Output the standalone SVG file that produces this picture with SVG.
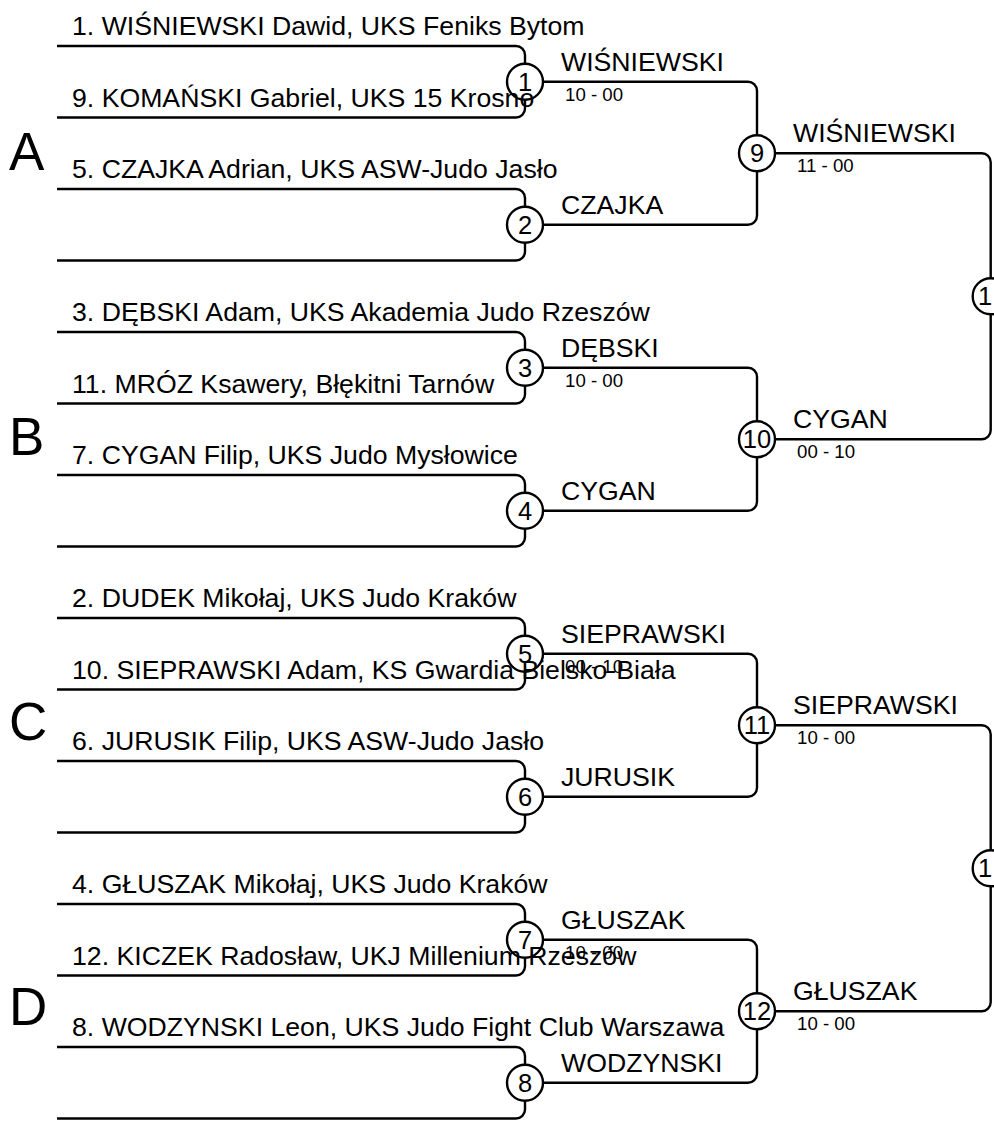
<svg xmlns="http://www.w3.org/2000/svg" width="994" height="1124" viewBox="0 0 994 1124">
<style>
  .ln{fill:none;stroke:#000;stroke-width:2.4;stroke-linejoin:round}
  .c{fill:#fff;stroke:#000;stroke-width:2.4}
  text{font-family:"Liberation Sans",Arial,sans-serif;fill:#000}
  .nm{font-size:26.67px}
  .lb{font-size:26.67px}
  .sc{font-size:18.67px}
  .num{font-size:25.5px;text-anchor:middle}
  .grp{font-size:53px}
</style>
<rect width="994" height="1124" fill="#fff"/>
<g id="connectors" class="ln">
  <path d="M57,46 H516 A9,9 0 0 1 525,55 V63.75 M57,117.5 H516 A9,9 0 0 0 525,108.5 V99.75"/>
  <path d="M57,189 H516 A9,9 0 0 1 525,198 V206.75 M57,260.5 H516 A9,9 0 0 0 525,251.5 V242.75"/>
  <path d="M57,332 H516 A9,9 0 0 1 525,341 V349.75 M57,403.5 H516 A9,9 0 0 0 525,394.5 V385.75"/>
  <path d="M57,475 H516 A9,9 0 0 1 525,484 V492.75 M57,546.5 H516 A9,9 0 0 0 525,537.5 V528.75"/>
  <path d="M57,618 H516 A9,9 0 0 1 525,627 V635.75 M57,689.5 H516 A9,9 0 0 0 525,680.5 V671.75"/>
  <path d="M57,761 H516 A9,9 0 0 1 525,770 V778.75 M57,832.5 H516 A9,9 0 0 0 525,823.5 V814.75"/>
  <path d="M57,904 H516 A9,9 0 0 1 525,913 V921.75 M57,975.5 H516 A9,9 0 0 0 525,966.5 V957.75"/>
  <path d="M57,1047 H516 A9,9 0 0 1 525,1056 V1064.75 M57,1118.5 H516 A9,9 0 0 0 525,1109.5 V1100.75"/>
  <path d="M543,81.75 H748 A9,9 0 0 1 757,90.75 V135.25 M543,224.75 H748 A9,9 0 0 0 757,215.75 V171.25"/>
  <path d="M543,367.75 H748 A9,9 0 0 1 757,376.75 V421.25 M543,510.75 H748 A9,9 0 0 0 757,501.75 V457.25"/>
  <path d="M543,653.75 H748 A9,9 0 0 1 757,662.75 V707.25 M543,796.75 H748 A9,9 0 0 0 757,787.75 V743.25"/>
  <path d="M543,939.75 H748 A9,9 0 0 1 757,948.75 V993.25 M543,1082.75 H748 A9,9 0 0 0 757,1073.75 V1029.25"/>
  <path d="M775,153.25 H981.7 A9,9 0 0 1 990.7,162.25 V278.25 M775,439.25 H981.7 A9,9 0 0 0 990.7,430.25 V314.25"/>
  <path d="M775,725.25 H981.7 A9,9 0 0 1 990.7,734.25 V850.25 M775,1011.25 H981.7 A9,9 0 0 0 990.7,1002.25 V886.25"/>
</g>
<g id="pool-labels" class="grp">
  <text x="9" y="170">A</text>
  <text x="9" y="455">B</text>
  <text x="9" y="740">C</text>
  <text x="9" y="1025">D</text>
</g>
<g id="m1"><circle class="c" cx="525" cy="81.75" r="18"/><text class="num" x="525" y="90.9">1</text></g>
<g id="m2"><circle class="c" cx="525" cy="224.75" r="18"/><text class="num" x="525" y="233.9">2</text></g>
<g id="m3"><circle class="c" cx="525" cy="367.75" r="18"/><text class="num" x="525" y="376.9">3</text></g>
<g id="m4"><circle class="c" cx="525" cy="510.75" r="18"/><text class="num" x="525" y="519.9">4</text></g>
<g id="m5"><circle class="c" cx="525" cy="653.75" r="18"/><text class="num" x="525" y="662.9">5</text></g>
<g id="m6"><circle class="c" cx="525" cy="796.75" r="18"/><text class="num" x="525" y="805.9">6</text></g>
<g id="m7"><circle class="c" cx="525" cy="939.75" r="18"/><text class="num" x="525" y="948.9">7</text></g>
<g id="m8"><circle class="c" cx="525" cy="1082.75" r="18"/><text class="num" x="525" y="1091.9">8</text></g>
<g id="m9"><circle class="c" cx="757" cy="153.25" r="18"/><text class="num" x="757" y="162.4">9</text></g>
<g id="m10"><circle class="c" cx="757" cy="439.25" r="18"/><text class="num" x="757" y="448.4">10</text></g>
<g id="m11"><circle class="c" cx="757" cy="725.25" r="18"/><text class="num" x="757" y="734.4">11</text></g>
<g id="m12"><circle class="c" cx="757" cy="1011.25" r="18"/><text class="num" x="757" y="1020.4">12</text></g>
<g id="sf1"><circle class="c" cx="990.7" cy="296.25" r="18"/><text class="num" x="985" y="305.4">1</text></g>
<g id="sf2"><circle class="c" cx="990.7" cy="868.25" r="18"/><text class="num" x="985" y="877.4">1</text></g>
<g id="entrants" class="nm">
  <text x="72" y="35">1. WIŚNIEWSKI Dawid, UKS Feniks Bytom</text>
  <text x="72" y="106.5">9. KOMAŃSKI Gabriel, UKS 15 Krosno</text>
  <text x="72" y="178">5. CZAJKA Adrian, UKS ASW-Judo Jasło</text>
  <text x="72" y="321">3. DĘBSKI Adam, UKS Akademia Judo Rzeszów</text>
  <text x="72" y="392.5">11. MRÓZ Ksawery, Błękitni Tarnów</text>
  <text x="72" y="464">7. CYGAN Filip, UKS Judo Mysłowice</text>
  <text x="72" y="607">2. DUDEK Mikołaj, UKS Judo Kraków</text>
  <text x="72" y="678.5">10. SIEPRAWSKI Adam, KS Gwardia Bielsko-Biała</text>
  <text x="72" y="750">6. JURUSIK Filip, UKS ASW-Judo Jasło</text>
  <text x="72" y="893">4. GŁUSZAK Mikołaj, UKS Judo Kraków</text>
  <text x="72" y="964.5">12. KICZEK Radosław, UKJ Millenium Rzeszów</text>
  <text x="72" y="1036">8. WODZYNSKI Leon, UKS Judo Fight Club Warszawa</text>
</g>
<g id="winners" class="lb">
  <text x="561" y="70.75">WIŚNIEWSKI</text>
  <text x="561" y="213.75">CZAJKA</text>
  <text x="561" y="356.75">DĘBSKI</text>
  <text x="561" y="499.75">CYGAN</text>
  <text x="561" y="642.75">SIEPRAWSKI</text>
  <text x="561" y="785.75">JURUSIK</text>
  <text x="561" y="928.75">GŁUSZAK</text>
  <text x="561" y="1071.75">WODZYNSKI</text>
  <text x="793" y="142.25">WIŚNIEWSKI</text>
  <text x="793" y="428.25">CYGAN</text>
  <text x="793" y="714.25">SIEPRAWSKI</text>
  <text x="793" y="1000.25">GŁUSZAK</text>
</g>
<g id="scores" class="sc">
  <text x="565" y="100.75">10 - 00</text>
  <text x="565" y="386.75">10 - 00</text>
  <text x="565" y="672.75">00 - 10</text>
  <text x="565" y="958.75">10 - 00</text>
  <text x="797" y="172.25">11 - 00</text>
  <text x="797" y="458.25">00 - 10</text>
  <text x="797" y="744.25">10 - 00</text>
  <text x="797" y="1030.25">10 - 00</text>
</g>
</svg>
